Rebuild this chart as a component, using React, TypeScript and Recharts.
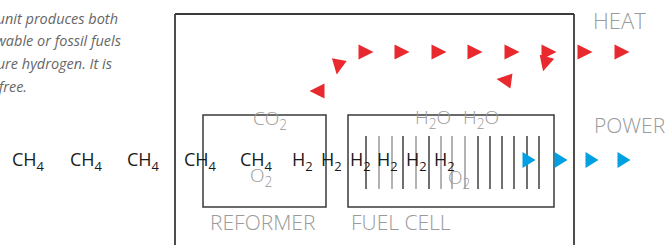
import React from 'react';
import {
  ScatterChart,
  Scatter,
  XAxis,
  YAxis,
  ReferenceArea,
  ReferenceLine
} from 'recharts';

// Diagram units are the picture's own pixels: x left to right, y top to bottom
const WIDTH = 667;
const HEIGHT = 245;

// Fuel stream entering the unit
const ch4X = [12, 70, 127, 184, 240];
const h2X = [292, 321, 350, 377, 406, 434];
const streamY = 166;

// Gases in and out of the two stages
const gasNames = ['CO2', 'O2', 'H2O', 'H2O', 'O2'];
const gasX = [253, 250, 415, 463, 448];
const gasY = [125, 182, 124, 124, 184];

// Names of the stages and outputs
const stageNames = ['REFORMER', 'FUEL CELL', 'HEAT', 'POWER'];
const stageX = [210, 351, 593, 594];
const stageY = [230, 230, 29, 133];

// Heat arrows: straight run to the right plus the loop back to the reformer
const heatX = [366, 402, 439, 475, 512, 549, 585, 622];
const heatY = 52;
const loopX = [317, 338, 504, 545];
const loopY = [91, 67, 80, 64];
const loopAngle = [180, 100, 188, 105];

// Power arrows
const powerX = [529, 561, 592, 624];
const powerY = 160;

// Fuel cell plates
const plateX = [366, 379, 392, 403, 416, 429, 441, 452, 465, 478, 490, 502, 514, 527, 539];
const plateDark = [1, 0, 0, 1, 0, 1, 0, 0, 0, 1, 1, 1, 1, 1, 1];

// Caption, cut off on the left
const caption = [
  'The unit produces both',
  'heat and power from renewable or fossil fuels',
  'which it turns into pure hydrogen. It is',
  'emission-free.'
];
const captionEnd = [118, 121, 112, 27];
const captionY = [24, 46, 69, 92];

const FONT = '"Open Sans", "Noto Sans", sans-serif';
const RED = '#e8292d';
const BLUE = '#00a0e3';
const FRAME = '#3a3a3a';
const GRAY_TEXT = '#9a9a9a';

const fuelData = [
  ...ch4X.map(x => ({ x, y: streamY, label: 'CH4' })),
  ...h2X.map(x => ({ x, y: streamY, label: 'H2' }))
];
const gasData = gasNames.map((label, i) => ({ x: gasX[i], y: gasY[i], label }));
const stageData = stageNames.map((label, i) => ({ x: stageX[i], y: stageY[i], label }));
const captionData = caption.map((label, i) => ({ x: captionEnd[i], y: captionY[i], label }));
const heatData = [
  ...heatX.map(x => ({ x, y: heatY, angle: 0 })),
  ...loopX.map((x, i) => ({ x, y: loopY[i], angle: loopAngle[i] }))
];
const powerData = powerX.map(x => ({ x, y: powerY, angle: 0 }));

// split a formula into plain and subscript runs, digits go low
const formulaParts = (s: string) => {
  const parts: { t: string; sub: boolean }[] = [];
  for (const ch of s) {
    const sub = /[0-9]/.test(ch);
    const last = parts[parts.length - 1];
    if (last && last.sub === sub) last.t += ch;
    else parts.push({ t: ch, sub });
  }
  return parts;
};

const makeFormula = (size: number, fill: string, weight: number) => (props: any) => {
  const { cx, cy, payload } = props;
  const parts = formulaParts(payload.label);
  const shift = size * 0.26;
  let prevSub = false;
  return (
    <text x={cx} y={cy} fontFamily={FONT} fontSize={size} fill={fill} fontWeight={weight}>
      {parts.map((p, i) => {
        const dy = p.sub ? shift : prevSub ? -shift : 0;
        prevSub = p.sub;
        return (
          <tspan key={i} dy={dy} fontSize={p.sub ? size * 0.72 : size}>
            {p.t}
          </tspan>
        );
      })}
    </text>
  );
};

const StageLabel = (props: any) => {
  const { cx, cy, payload } = props;
  const size = payload.label === 'HEAT' ? 22 : 21;
  return (
    <text x={cx} y={cy} fontFamily={FONT} fontSize={size} fontWeight={300} fill={GRAY_TEXT}>
      {payload.label}
    </text>
  );
};

const CaptionLine = (props: any) => {
  const { cx, cy, payload } = props;
  return (
    <text x={cx} y={cy} textAnchor="end" fontFamily={FONT} fontSize={14.5} fontStyle="italic" fill="#666">
      {payload.label}
    </text>
  );
};

const makeArrow = (w: number, h: number, fill: string) => (props: any) => {
  const { cx, cy, payload } = props;
  return (
    <polygon
      points={`${w / 2},0 ${-w / 2},${-h / 2} ${-w / 2},${h / 2}`}
      transform={`translate(${cx},${cy}) rotate(${payload.angle})`}
      fill={fill}
    />
  );
};

const App = () => {
  return (
    <div style={{ position: 'absolute', left: 0, top: 0 }}>
      <ScatterChart width={WIDTH} height={HEIGHT} margin={{ top: 0, right: 0, bottom: 0, left: 0 }}>
        <XAxis type="number" dataKey="x" domain={[0, WIDTH]} hide allowDataOverflow />
        <YAxis type="number" dataKey="y" domain={[0, HEIGHT]} reversed hide allowDataOverflow />

        {/* outer housing, open at the bottom */}
        <ReferenceLine segment={[{ x: 175, y: 14 }, { x: 175, y: HEIGHT }]} stroke={FRAME} strokeWidth={1.8} />
        <ReferenceLine segment={[{ x: 175, y: 14 }, { x: 574, y: 14 }]} stroke={FRAME} strokeWidth={1.8} />
        <ReferenceLine segment={[{ x: 574, y: 14 }, { x: 574, y: HEIGHT }]} stroke={FRAME} strokeWidth={1.8} />

        <ReferenceArea x1={203} x2={326} y1={115} y2={207} fill="none" fillOpacity={0} stroke={FRAME} strokeWidth={1.5} />
        <ReferenceArea x1={348} x2={554} y1={115} y2={207} fill="none" fillOpacity={0} stroke={FRAME} strokeWidth={1.5} />

        {plateX.map((x, i) => (
          <ReferenceLine
            key={`plate-${i}`}
            segment={[{ x, y: 136 }, { x, y: 189 }]}
            stroke={plateDark[i] ? '#222' : '#8a8a8a'}
            strokeWidth={1.3}
          />
        ))}

        <Scatter data={captionData} shape={CaptionLine} isAnimationActive={false} />
        <Scatter data={gasData} shape={makeFormula(19, GRAY_TEXT, 300)} isAnimationActive={false} />
        <Scatter data={stageData} shape={StageLabel} isAnimationActive={false} />
        <Scatter data={fuelData} shape={makeFormula(18, '#1a1a1a', 400)} isAnimationActive={false} />
        <Scatter data={heatData} shape={makeArrow(15, 15, RED)} isAnimationActive={false} />
        <Scatter data={powerData} shape={makeArrow(13, 16, BLUE)} isAnimationActive={false} />
      </ScatterChart>
    </div>
  );
};

export default App;
